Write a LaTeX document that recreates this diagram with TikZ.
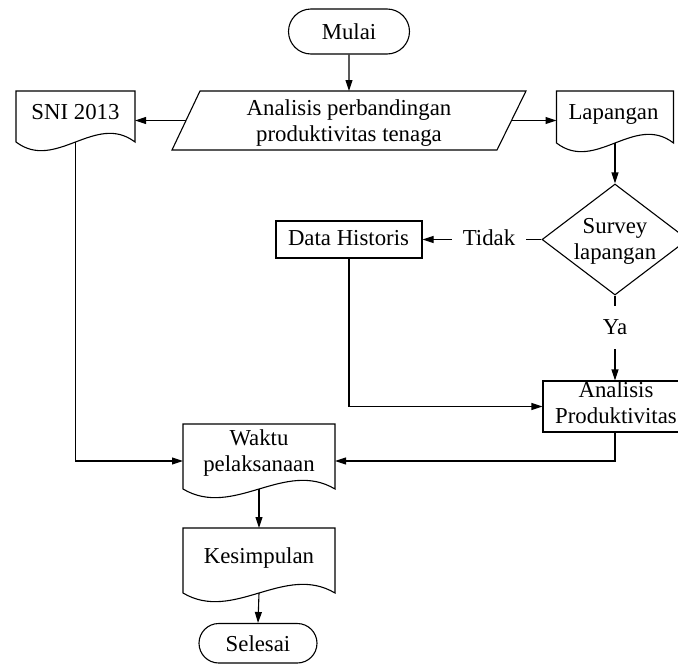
\documentclass[tikz,border=0pt]{standalone}
\usepackage{fontspec}
\setmainfont{Liberation Serif}
\usetikzlibrary{shapes.geometric,shapes.misc,arrows.meta,calc}
\tikzset{
  shp/.style={draw, line width=1.1pt},
  box/.style={rectangle, inner sep=0pt, outer sep=0pt},
  drawnbox/.style={draw, rectangle, line width=1.1pt, inner sep=0pt},
  term/.style={draw, rounded rectangle, line width=1.1pt, inner sep=0pt},
  arr/.style={line width=1.1pt, -{Triangle[length=11pt,width=7pt]}},
  ln/.style={line width=1.1pt},
  txt/.style={inner sep=0pt, align=center},
}
\newcommand\docpath[1]{\draw[shp] (#1.north west) -- (#1.north east) -- (#1.south east)
  .. controls ($(#1.south east)!1/3!(#1.south west)+(0,-30)$) and ($(#1.south east)!2/3!(#1.south west)+(0,30)$) .. (#1.south west) -- cycle;}
\begin{document}
\begin{tikzpicture}[x=1pt,y=-1pt,font=\fontsize{22.8}{26}\selectfont]
\useasboundingbox (0,0) rectangle (678,664);
\clip (0,0) rectangle (678,664);

% start
\node[term, minimum width=121pt, minimum height=45pt] (mulai) at (349,31.5) {Mulai};

% parallelogram
\node[box, minimum width=326pt, minimum height=59pt] (para) at (349,120.5) {};
\draw[shp] ($(para.north west)+(14,0)$) -- ($(para.north east)+(14,0)$) -- ($(para.south east)+(-15,0)$) -- ($(para.south west)+(-14,0)$) -- cycle;
\node[txt] (paraT) at (349,123) {Analisis perbandingan\\produktivitas tenaga};

% documents
\node[box, minimum width=119pt, minimum height=51pt] (sni) at (75.5,116.5) {};
\docpath{sni}
\node[txt] (sniT) at (75.5,112.5) {SNI 2013};

\node[box, minimum width=117pt, minimum height=52pt] (lap) at (615,117) {};
\docpath{lap}
\node[txt] (lapT) at (613.5,114.7) {Lapangan};

% decision
\node[draw, diamond, line width=1.1pt, inner sep=0pt, minimum width=146pt, minimum height=111pt] (dia) at (615,239.5) {};
\node[txt] (diaT) at (615,241) {Survey\\lapangan};

% data historis
\node[drawnbox, minimum width=146pt, minimum height=37pt] (dh) at (349,239.5) {};
\node[txt] (dhT) at (348.5,238.5) {Data Historis};

\node[inner xsep=11pt, inner ysep=0pt] (tidak) at (489,238) {Tidak};
\node[inner xsep=0pt, inner ysep=14pt] (ya) at (615,327.5) {Ya};

% analisis produktivitas
\node[drawnbox, minimum width=144pt, minimum height=51pt] (anal) at (615,406.5) {};
\node[txt] (analT) at (616,402.5) {Analisis\\Produktivitas};

% waktu
\node[box, minimum width=152pt, minimum height=65pt] (waktu) at (259,456.5) {};
\docpath{waktu}
\node[txt] (waktuT) at (259,453) {Waktu\\pelaksanaan};

% kesimpulan
\node[box, minimum width=152pt, minimum height=65pt] (kes) at (259,560.5) {};
\docpath{kes}
\node[txt] (kesT) at (259,558) {Kesimpulan};

% end
\node[term, minimum width=118pt, minimum height=39.5pt] (selesai) at (258,643.25) {Selesai};

% connectors
\draw[arr] (mulai) -- (para);
\draw[arr] (para.west) -- (para.west -| sni.east);
\draw[arr] (para.east) -- (para.east -| lap.west);
\draw[arr] (lap.south) -- (dia.north);
\draw[ln] (dia.west) -- (dia.west -| tidak.east);
\draw[arr] (tidak.west |- dh.east) -- (dh.east);
\draw[ln] (dia.south) -- (ya.north);
\draw[arr] (ya.south) -- (anal.north);
\draw[arr] (dh.south) |- (anal.west);
\draw[arr] (anal.south) |- ($(waktu.east)+(0,4.5)$);
\draw[arr] (sni.south) |- ($(waktu.west)+(0,4.5)$);
\draw[arr] (waktu.south) -- (kes.north);
\draw[arr] (kes.south) -- (selesai.north);
\end{tikzpicture}
\end{document}
